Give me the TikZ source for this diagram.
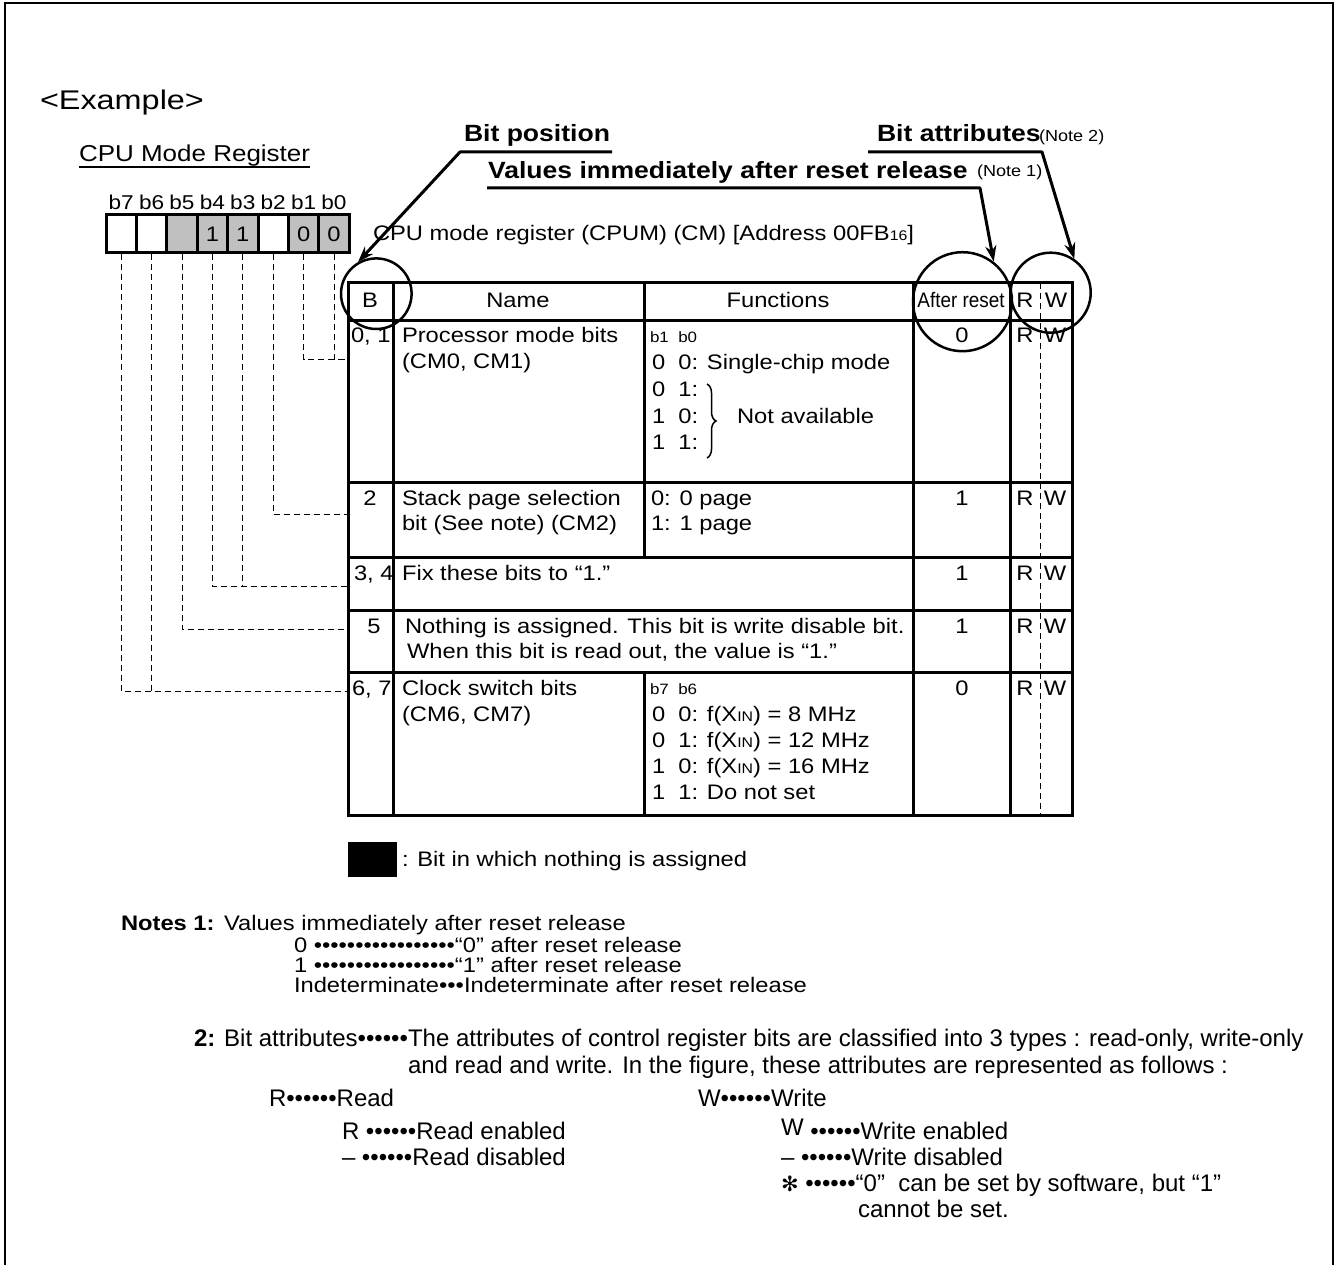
\documentclass[tikz,border=0pt]{standalone}
\usepackage{fontspec}
\setmainfont{Liberation Sans}
\newfontfamily\fA{Liberation Sans}[FakeStretch=1.13]
\newfontfamily\fE{Liberation Sans}[FakeStretch=1.2]
\newfontfamily\fN{Liberation Sans}[FakeStretch=0.9]
\newfontfamily\fB{Liberation Sans}[FakeStretch=1.0]
\newfontfamily\fSym{DejaVu Sans}
\usetikzlibrary{arrows.meta,decorations.pathreplacing}
\definecolor{regGray}{RGB}{192,192,192}
\newcommand\xin{X{\fontsize{14}{14}\selectfont IN}}
\begin{document}
\begin{tikzpicture}[x=1pt,y=-1pt,
  txt/.style={inner sep=0pt, outer sep=0pt, anchor=base west, font=\fA\fontsize{21}{25}\selectfont},
  ctxt/.style={txt, anchor=base},
  small/.style={txt, font=\fA\fontsize{15}{18}\selectfont},
  boldt/.style={txt, font=\fA\bfseries\fontsize{23.5}{27}\selectfont},
  notet/.style={txt, font=\fA\fontsize{16}{19}\selectfont},
  ntxt/.style={txt, font=\fB\fontsize{24}{28}\selectfont},
  tline/.style={line width=3pt},
  dline/.style={line width=1pt, dash pattern=on 6pt off 4pt},
  ring/.style={circle, draw, line width=2.5pt, inner sep=0pt},
  arr/.style={line width=3pt, line join=round, -{Stealth[length=16pt,width=11pt]}},
  bitbox/.style={draw, line width=3pt, minimum width=30.4pt, minimum height=38pt, inner sep=0pt, font=\fA\fontsize{21}{25}\selectfont},
]
\useasboundingbox (0,0) rectangle (1339,1265);
% frame
\draw[line width=2.5pt] (5,1265) -- (5,3) -- (1333,3) -- (1333,1265);

\node[txt, font=\fE\fontsize{27}{32}\selectfont] (ex) at (40,110) {<Example>};
\node[txt, font=\fA\fontsize{23}{27}\selectfont] (cmr) at (79,162) {CPU Mode Register};
\draw[line width=1.5pt] (cmr.south west) -- (cmr.south east);

% register bits
\foreach \i/\f/\t [count=\k from 0] in {7/white/,6/white/,5/regGray/,4/regGray/1,3/regGray/1,2/white/,1/regGray/0,0/regGray/0}{
  \node[bitbox, fill=\f] (bit\i) at ({106+30.4*(\k+0.5)},234) {\t};
  \node[ctxt, font=\fA\fontsize{20}{24}\selectfont] (lab\i) at ({106+30.4*(\k+0.5)},210) {b\i};
}

% row hooks
\coordinate (h01) at (348,360);
\coordinate (h2) at (348,514);
\coordinate (h34) at (348,586);
\coordinate (h5) at (348,629);
\coordinate (h67) at (348,691);
\draw[dline] (bit0.south) |- (h01);
\draw[dline] (bit1.south) |- (h01);
\draw[dline] (bit2.south) |- (h2);
\draw[dline] (bit3.south) |- (h34);
\draw[dline] (bit4.south) |- (h34);
\draw[dline] (bit5.south) |- (h5);
\draw[dline] (bit6.south) |- (h67);
\draw[dline] (bit7.south) |- (h67);

% register title
\node[txt] (title) at (373,241) {CPU mode register (CPUM) (CM) [Address 00FB{\fontsize{14}{14}\selectfont 16}]};

% table
\draw[dline] (1040,283) -- (1040,815);
\draw[tline] (348,283) rectangle (1072,815);
\foreach \y in {321,482,557,610,672} \draw[tline] (348,\y) -- (1072,\y);
\draw[tline] (393,283) -- (393,815);
\draw[tline] (644,283) -- (644,557);
\draw[tline] (644,672) -- (644,815);
\draw[tline] (913,283) -- (913,815);
\draw[tline] (1010,283) -- (1010,815);

% header
\node[ctxt] (hB) at (370,308) {B};
\node[ctxt] (hName) at (518,308) {Name};
\node[ctxt] (hFun) at (778,308) {Functions};
\node[ctxt, font=\fN\fontsize{21}{25}\selectfont] (hAR) at (961,308) {After reset};
\node[ctxt] (hR) at (1025,308) {R};
\node[ctxt] (hW) at (1056,308) {W};

% row 1
\node[txt] (b01) at (351,342) {0, 1};
\node[txt] (n1a) at (402,342) {Processor mode bits};
\node[txt] (n1b) at (402,369) {(CM0, CM1)};
\node[small] (f1h) at (650,343) {b1\ \ b0};
\node[txt] (f1a) at (652,370) {0\ \ 0: Single-chip mode};
\node[txt] (f1b) at (652,396) {0\ \ 1:};
\node[txt] (f1c) at (652,423) {1\ \ 0:};
\node[txt] (f1d) at (652,449) {1\ \ 1:};
\draw[line width=1.5pt, decorate, decoration={brace, amplitude=9pt}] (707,384) -- (707,458);
\node[txt] (na) at (737,423) {Not available};
\node[ctxt] (v1) at (962,343) {0};
\node[ctxt] (r1) at (1025,343) {R};
\node[ctxt] (w1) at (1055,343) {W};

% row 2
\node[ctxt] (b2) at (370,505) {2};
\node[txt] (n2a) at (402,505) {Stack page selection};
\node[txt] (n2b) at (402,530) {bit (See note) (CM2)};
\node[txt] (f2a) at (651,505) {0: 0 page};
\node[txt] (f2b) at (651,530) {1: 1 page};
\node[ctxt] (v2) at (962,505) {1};
\node[ctxt] (r2) at (1025,505) {R};
\node[ctxt] (w2) at (1055,505) {W};

% row 3
\node[txt] (b34) at (354,580) {3, 4};
\node[txt] (n3) at (402,580) {Fix these bits to “1.”};
\node[ctxt] (v3) at (962,580) {1};
\node[ctxt] (r3) at (1025,580) {R};
\node[ctxt] (w3) at (1055,580) {W};

% row 4
\node[ctxt] (b5) at (374,633) {5};
\node[txt] (n4a) at (405,633) {Nothing is assigned. This bit is write disable bit.};
\node[txt] (n4b) at (407,658) {When this bit is read out, the value is “1.”};
\node[ctxt] (v4) at (962,633) {1};
\node[ctxt] (r4) at (1025,633) {R};
\node[ctxt] (w4) at (1055,633) {W};

% row 5
\node[txt] (b67) at (352,695) {6, 7};
\node[txt] (n5a) at (402,695) {Clock switch bits};
\node[txt] (n5b) at (402,721) {(CM6, CM7)};
\node[small] (f5h) at (650,694) {b7\ \ b6};
\node[txt] (f5a) at (652,721) {0\ \ 0: f(\xin) = 8 MHz};
\node[txt] (f5b) at (652,747) {0\ \ 1: f(\xin) = 12 MHz};
\node[txt] (f5c) at (652,773) {1\ \ 0: f(\xin) = 16 MHz};
\node[txt] (f5d) at (652,799) {1\ \ 1: Do not set};
\node[ctxt] (v5) at (962,695) {0};
\node[ctxt] (r5) at (1025,695) {R};
\node[ctxt] (w5) at (1055,695) {W};

% circles
\node[ring, minimum size=70.6pt] (cB) at (376.3,293.7) {};
\node[ring, minimum size=99pt] (cAR) at (962.5,301.7) {};
\node[ring, minimum size=80pt] (cRW) at (1050.7,292.7) {};

% callouts
\node[boldt] (bp) at (464,142) {Bit position};
\node[boldt] (vr) at (488,179) {Values immediately after reset release};
\node[notet] (n1) at (977,177) {(Note 1)};
\node[boldt] (ba) at (877,142) {Bit attributes};
\node[notet] (n2) at (1039,142) {(Note 2)};
\coordinate (bpR) at (612,152);
\coordinate (bpL) at (460,152);
\coordinate (vrL) at (487,188);
\coordinate (vrR) at (980,188);
\coordinate (baL) at (868,152);
\coordinate (baR) at (1042,152);
\draw[arr] (bpR) -- (bpL) -- (cB.120);
\draw[arr] (vrL) -- (vrR) -- (cAR.52);
\draw[arr] (baL) -- (baR) -- (cRW.55);

% legend
\node[fill=black, minimum width=49pt, minimum height=35pt, inner sep=0pt] (legbox) at (372.5,859.5) {};
\node[txt] (legt) at (402,866) {: Bit in which nothing is assigned};

% notes 1
\node[txt, font=\fA\bfseries\fontsize{21}{25}\selectfont] (nt1) at (121,930) {Notes 1:};
\node[txt] (nt1a) at (224,930) {Values immediately after reset release};
\node[txt] (nt1b) at (294,952) {0 •••••••••••••••••“0” after reset release};
\node[txt] (nt1c) at (294,972) {1 •••••••••••••••••“1” after reset release};
\node[txt] (nt1d) at (294,992) {Indeterminate•••Indeterminate after reset release};

% notes 2
\node[ntxt] (nt2) at (194,1046) {\textbf{2:} Bit attributes••••••};
\node[ntxt] (nt2a) at (408,1046) {The attributes of control register bits are classified into 3 types : read-only, write-only};
\node[ntxt] (nt2b) at (408,1073) {and read and write. In the figure, these attributes are represented as follows :};
\node[ntxt] (rr) at (269,1106) {R••••••Read};
\node[ntxt] (ww) at (698,1106) {W••••••Write};
\node[ntxt] (re) at (342,1139) {R ••••••Read enabled};
\node[ntxt] (rd) at (342,1165) {– ••••••Read disabled};
\node[ntxt] (we) at (781,1139) {\raisebox{4pt}{W} ••••••Write enabled};
\node[ntxt] (wd) at (781,1165) {– ••••••Write disabled};
\node[ntxt] (ws) at (781,1191) {{\fSym\fontsize{21}{22}\selectfont ✻} ••••••“0”\ \ can be set by software, but “1”};
\node[ntxt] (ws2) at (858,1217) {cannot be set.};
\end{tikzpicture}
\end{document}
